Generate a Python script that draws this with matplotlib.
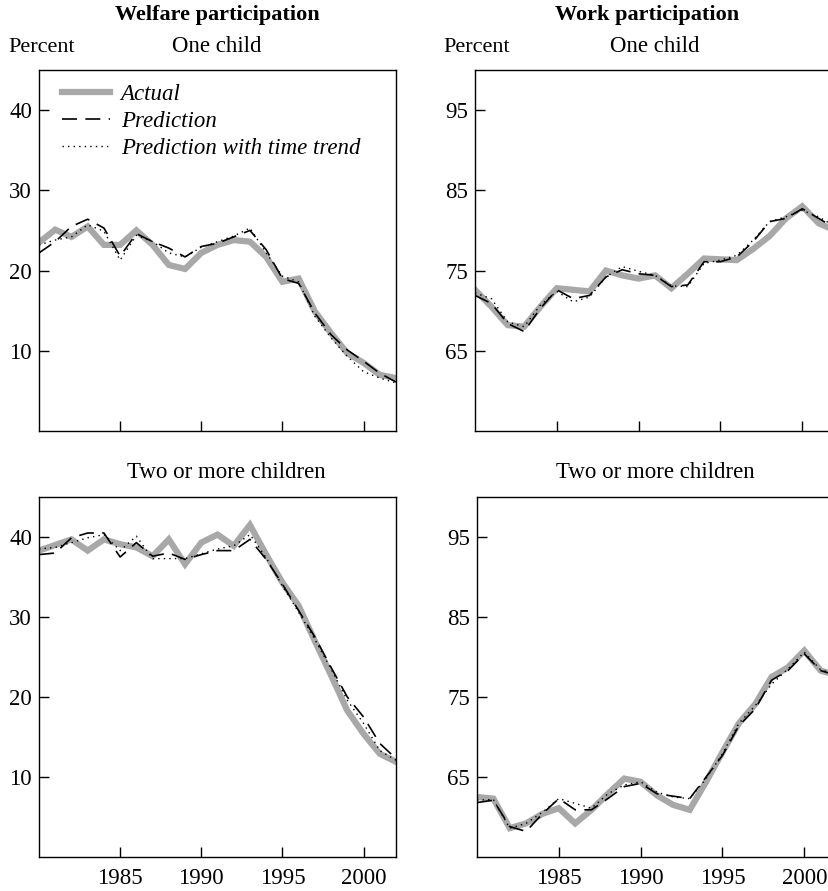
import numpy as np
import matplotlib.pyplot as plt

plt.rcParams['font.family'] = ['Liberation Serif', 'DejaVu Serif']
plt.rcParams['font.size'] = 16

years = np.arange(1980, 2003)

# welfare participation, one child
wel1_actual = [23.5, 25.1, 24.2, 25.5, 23.2, 23.2, 25.0, 23.2, 20.7, 20.2, 22.2, 23.2,
               23.8, 23.6, 21.7, 18.6, 19.0, 14.9, 12.2, 9.7, 8.5, 7.0, 6.6]
wel1_pred = [22.2, 23.6, 25.5, 26.4, 25.3, 21.8, 24.6, 23.6, 22.8, 21.7, 23.0, 23.4,
             24.2, 25.0, 22.6, 19.0, 18.4, 14.7, 12.0, 10.1, 8.7, 7.2, 6.1]
wel1_trend = [23.2, 23.8, 24.2, 25.7, 24.9, 21.3, 24.4, 23.6, 22.2, 21.7, 22.9, 23.6,
              24.3, 25.3, 22.2, 19.3, 18.6, 14.3, 11.6, 9.3, 7.4, 6.6, 6.0]

# welfare participation, two or more children
wel2_actual = [38.3, 39.0, 39.7, 38.3, 39.7, 39.1, 38.7, 37.6, 39.7, 36.6, 39.3, 40.3,
               38.9, 41.5, 37.8, 34.3, 31.4, 27.0, 22.7, 18.3, 15.4, 12.9, 11.9]
wel2_pred = [37.8, 38.0, 39.9, 40.5, 40.5, 37.5, 39.3, 37.6, 38.0, 37.2, 37.8, 38.3,
             38.3, 39.7, 37.2, 34.1, 30.8, 27.5, 23.7, 20.0, 17.5, 14.2, 12.3]
wel2_trend = [38.5, 38.7, 39.3, 39.9, 40.3, 38.3, 40.1, 37.3, 37.3, 37.3, 37.9, 38.5,
              38.9, 40.3, 37.4, 33.9, 30.6, 27.2, 23.5, 19.6, 16.7, 13.3, 12.1]

# work participation, one child
wrk1_actual = [72.6, 70.5, 68.2, 68.0, 70.5, 72.8, 72.6, 72.4, 75.0, 74.4, 74.0, 74.4,
               72.8, 74.6, 76.5, 76.4, 76.3, 77.7, 79.3, 81.5, 83.0, 80.9, 80.0]
wrk1_pred = [71.9, 70.9, 68.4, 67.4, 70.3, 72.6, 71.5, 71.9, 74.2, 75.1, 74.6, 74.4,
             73.0, 73.2, 76.1, 76.1, 76.7, 78.6, 81.1, 81.5, 82.7, 81.5, 80.3]
wrk1_trend = [72.2, 71.5, 68.6, 68.0, 70.7, 72.4, 71.1, 71.7, 74.2, 75.5, 74.9, 74.4,
              73.1, 73.0, 75.9, 76.3, 76.9, 78.8, 81.1, 81.7, 82.5, 81.7, 80.5]

# work participation, two or more children
wrk2_actual = [62.5, 62.3, 58.6, 59.2, 60.4, 61.1, 59.2, 60.9, 62.9, 64.8, 64.4, 62.7,
               61.5, 60.9, 64.4, 68.1, 71.7, 74.1, 77.5, 78.7, 80.8, 78.3, 77.7]
wrk2_pred = [61.8, 62.1, 58.8, 58.2, 60.4, 62.3, 60.9, 60.9, 62.3, 63.8, 64.2, 62.9,
             62.6, 62.3, 65.0, 67.7, 71.4, 73.5, 77.1, 78.3, 80.4, 78.3, 77.7]
wrk2_trend = [62.1, 62.2, 58.6, 59.2, 60.6, 62.3, 61.7, 61.1, 62.9, 64.0, 64.4, 63.1,
              62.5, 62.3, 64.8, 67.9, 71.7, 73.9, 76.6, 78.5, 80.6, 78.4, 77.8]

wel_ticks = [10, 20, 30, 40]
wrk_ticks = [65, 75, 85, 95]
year_ticks = [1985, 1990, 1995, 2000]

W, H = 829, 891
fig = plt.figure(figsize=(W / 100, H / 100), dpi=100)


def box(l, r, t, b):
    return [l / W, 1 - b / H, (r - l) / W, (b - t) / H]


ax_tl = fig.add_axes(box(39, 396, 70, 431))
ax_tr = fig.add_axes(box(475, 835, 70, 431))
ax_bl = fig.add_axes(box(39, 396, 497, 857))
ax_br = fig.add_axes(box(477, 837, 497, 857))

panels = [
    (ax_tl, wel1_actual, wel1_pred, wel1_trend, (0, 45), wel_ticks, False),
    (ax_tr, wrk1_actual, wrk1_pred, wrk1_trend, (55, 100), wrk_ticks, False),
    (ax_bl, wel2_actual, wel2_pred, wel2_trend, (0, 45), wel_ticks, True),
    (ax_br, wrk2_actual, wrk2_pred, wrk2_trend, (55, 100), wrk_ticks, True),
]

for ax, act, pred, trend, ylim, yt, xlab in panels:
    ax.plot(years, act, color='#a8a8a8', lw=4.5, solid_joinstyle='miter',
            label='Actual')
    ax.plot(years, pred, color='black', lw=1.2, dashes=(9, 5),
            label='Prediction')
    ax.plot(years, trend, color='black', lw=1.0, linestyle=(0, (1, 3)),
            label='Prediction with time trend')
    ax.set_xlim(1980, 2002)
    ax.set_ylim(*ylim)
    ax.set_yticks(yt)
    ax.set_xticks(year_ticks)
    ax.tick_params(direction='in', length=7, width=1, labelsize=16.5, pad=5)
    ax.tick_params(axis='x', pad=8)
    if not xlab:
        ax.set_xticklabels([])
    for s in ax.spines.values():
        s.set_linewidth(1.0)

leg = ax_tl.legend(loc='upper left', bbox_to_anchor=(0.065, 0.96), frameon=False,
                   handlelength=2.1, handletextpad=0.45, labelspacing=0.26,
                   borderaxespad=0, borderpad=0, prop={'style': 'italic', 'size': 16.5})

fig.text(217 / W, 1 - 15 / H, 'Welfare participation', ha='center', va='center',
         fontsize=16, fontweight='bold')
fig.text(647 / W, 1 - 15 / H, 'Work participation', ha='center', va='center',
         fontsize=16, fontweight='bold')
for x in (8, 443):
    fig.text(x / W, 1 - 47 / H, 'Percent', ha='left', va='center', fontsize=16)
fig.text(217 / W, 1 - 47 / H, 'One child', ha='center', va='center', fontsize=16.5)
fig.text(655 / W, 1 - 47 / H, 'One child', ha='center', va='center', fontsize=16.5)
fig.text(226 / W, 1 - 473 / H, 'Two or more children', ha='center', va='center', fontsize=16.5)
fig.text(655 / W, 1 - 473 / H, 'Two or more children', ha='center', va='center', fontsize=16.5)

fig.savefig('out.png', dpi=100)
